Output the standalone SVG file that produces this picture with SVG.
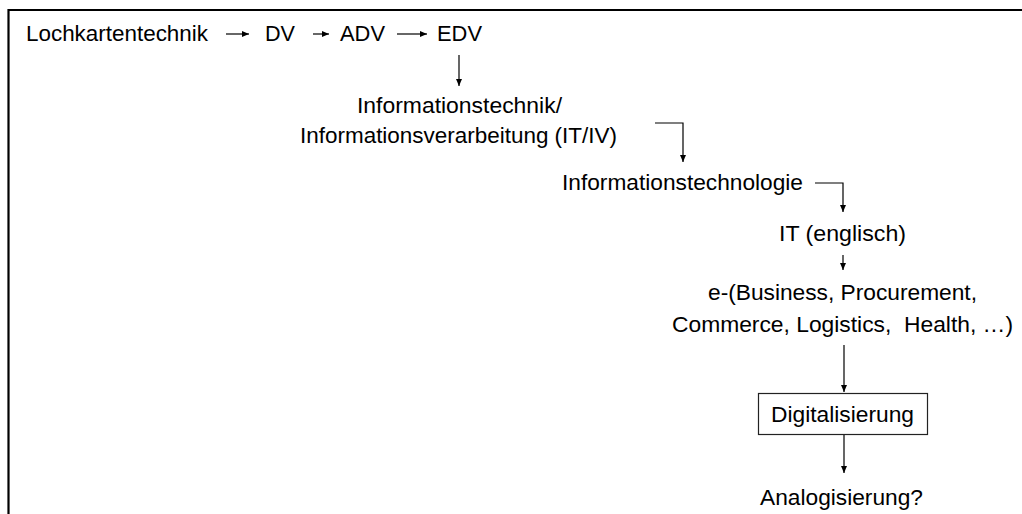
<svg xmlns="http://www.w3.org/2000/svg" width="1022" height="514" viewBox="0 0 1022 514">
<style>
text{font-family:"Liberation Sans",Arial,sans-serif;font-size:22px;fill:#000;white-space:pre}
.c{fill:none;stroke:#000;stroke-width:1.2}
.frame{fill:none;stroke:#000;stroke-width:2.2}
</style>
<defs>
<marker id="ah" markerUnits="userSpaceOnUse" markerWidth="8" markerHeight="8" refX="7" refY="3" orient="auto">
<path d="M0,0 L7,3 L0,6 z" fill="#000"/>
</marker>
</defs>
<rect width="1022" height="514" fill="#fff"/>
<path class="frame" d="M8.5,514 V10 H1022"/>
<g id="n-lochkarten"><text x="26" y="41" textLength="182" lengthAdjust="spacingAndGlyphs">Lochkartentechnik</text></g>
<g id="n-dv"><text x="265" y="41" textLength="30" lengthAdjust="spacingAndGlyphs">DV</text></g>
<g id="n-adv"><text x="340" y="41" textLength="45" lengthAdjust="spacingAndGlyphs">ADV</text></g>
<g id="n-edv"><text x="437" y="41" textLength="45" lengthAdjust="spacingAndGlyphs">EDV</text></g>
<g id="n-itiv">
<text x="357" y="113" textLength="205" lengthAdjust="spacingAndGlyphs">Informationstechnik/</text>
<text x="300" y="143" textLength="317" lengthAdjust="spacingAndGlyphs">Informationsverarbeitung (IT/IV)</text>
</g>
<g id="n-itech"><text x="562" y="190" textLength="241" lengthAdjust="spacingAndGlyphs">Informationstechnologie</text></g>
<g id="n-iteng"><text x="779" y="241" textLength="127" lengthAdjust="spacingAndGlyphs">IT (englisch)</text></g>
<g id="n-ebiz">
<text x="708" y="300" textLength="269" lengthAdjust="spacingAndGlyphs">e-(Business, Procurement,</text>
<text x="672" y="332" textLength="341" lengthAdjust="spacingAndGlyphs">Commerce, Logistics,  Health, …)</text>
</g>
<g id="n-digital">
<rect x="758.5" y="393.5" width="169" height="41" fill="#fff" stroke="#222" stroke-width="1.2"/>
<text x="771" y="422" textLength="143" lengthAdjust="spacingAndGlyphs">Digitalisierung</text>
</g>
<g id="n-analog"><text x="760" y="505" textLength="163" lengthAdjust="spacingAndGlyphs">Analogisierung?</text></g>
<g id="connectors">
<line class="c" x1="226" y1="34" x2="249" y2="34" marker-end="url(#ah)"/>
<line class="c" x1="313" y1="34" x2="329" y2="34" marker-end="url(#ah)"/>
<line class="c" x1="397" y1="34" x2="427" y2="34" marker-end="url(#ah)"/>
<line class="c" x1="459" y1="55" x2="459" y2="86" marker-end="url(#ah)"/>
<path class="c" d="M655,123 H683 V162" marker-end="url(#ah)"/>
<path class="c" d="M815,183 H843 V212" marker-end="url(#ah)"/>
<line class="c" x1="843" y1="255" x2="843" y2="270" marker-end="url(#ah)"/>
<line class="c" x1="844" y1="345" x2="844" y2="392" marker-end="url(#ah)"/>
<line class="c" x1="844" y1="435" x2="844" y2="473" marker-end="url(#ah)"/>
</g>
</svg>
